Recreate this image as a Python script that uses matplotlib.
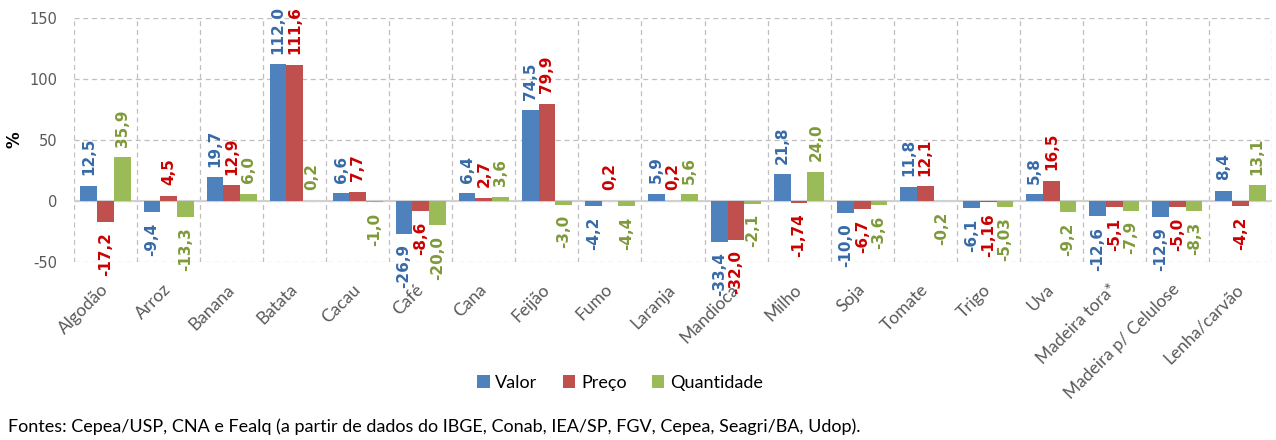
import matplotlib
matplotlib.use("Agg")
import matplotlib.pyplot as plt
import numpy as np

categories = ["Algodão", "Arroz", "Banana", "Batata", "Cacau", "Café", "Cana",
              "Feijão", "Fumo", "Laranja", "Mandioca", "Milho", "Soja", "Tomate",
              "Trigo", "Uva", "Madeira tora*", "Madeira p/ Celulose", "Lenha/carvão"]
valor = [12.5, -9.4, 19.7, 112.0, 6.6, -26.9, 6.4, 74.5, -4.2, 5.9, -33.4,
         21.8, -10.0, 11.8, -6.1, 5.8, -12.6, -12.9, 8.4]
preco = [-17.2, 4.5, 12.9, 111.6, 7.7, -8.6, 2.7, 79.9, 0.2, 0.2, -32.0,
         -1.74, -6.7, 12.1, -1.16, 16.5, -5.1, -5.0, -4.2]
quantidade = [35.9, -13.3, 6.0, 0.2, -1.0, -20.0, 3.6, -3.0, -4.4, 5.6, -2.1,
              24.0, -3.6, -0.2, -5.03, -9.2, -7.9, -8.3, 13.1]
series_names = ["Valor", "Preço", "Quantidade"]
y_ticks = [-50, 0, 50, 100, 150]
footer = ("Fontes: Cepea/USP, CNA e Fealq (a partir de dados do IBGE, Conab, "
          "IEA/SP, FGV, Cepea, Seagri/BA, Udop).")

bar_colors = ["#4F81BD", "#C0504D", "#9BBB59"]
label_colors = ["#376AA8", "#CC0000", "#7F9A3A"]


def fmt(v):
    # one decimal unless the value needs two
    s = f"{v:.1f}" if round(v, 1) == v else f"{v:.2f}"
    return s.replace(".", ",")


fig = plt.figure(figsize=(12.76, 4.4), dpi=100)
ax = fig.add_axes([74 / 1276, 1 - 262 / 440, 1198 / 1276, 244 / 440])

x = np.arange(len(categories))
w = 0.265
for i, (vals, name) in enumerate(zip([valor, preco, quantidade], series_names)):
    ax.bar(x + (i - 1) * w, vals, w, color=bar_colors[i], label=name, zorder=3)
    for xi, v in zip(x + (i - 1) * w, vals):
        ax.annotate(fmt(v), (xi, v), xytext=(0, 7.5 if v >= 0 else -7.5),
                    textcoords="offset points", rotation=90, ha="center",
                    va="bottom" if v >= 0 else "top", color=label_colors[i],
                    fontsize=11, fontweight="bold", family="DejaVu Sans",
                    annotation_clip=False, zorder=4)

ax.set_xlim(-0.5, len(categories) - 0.5)
ax.set_ylim(-50, 150)
ax.set_yticks(y_ticks)
ax.set_yticklabels([str(t) for t in y_ticks], color="#595959", fontsize=10.5,
                   family="DejaVu Sans")
ax.set_xticks(x)
ax.set_xticklabels(categories, rotation=45, ha="right", va="center",
                   rotation_mode="anchor", family="Lato", fontsize=12.5,
                   color="#595959")
ax.set_xticks(np.arange(-0.5, len(categories)), minor=True)
ax.tick_params(axis="both", which="both", length=0)
ax.tick_params(axis="x", pad=18)
ax.tick_params(axis="y", pad=12)

ax.grid(axis="y", which="major", linestyle=(0, (4, 3)), color="#BFBFBF", lw=0.9, zorder=0)
ax.grid(axis="x", which="minor", linestyle=(0, (4, 3)), color="#BFBFBF", lw=0.9, zorder=0)
ax.grid(axis="x", which="major", visible=False)
ax.axhline(0, color="#D0D0D0", lw=1.5, zorder=2)
for s in ax.spines.values():
    s.set_visible(False)

fig.text(14 / 1276, 1 - 140 / 440, "%", rotation=90, ha="center", va="center",
         fontsize=12, fontweight="bold", color="black", family="DejaVu Sans")

ax.legend(loc="center", bbox_to_anchor=(620 / 1276, 1 - 383 / 440),
          bbox_transform=fig.transFigure, ncol=3, frameon=False,
          handlelength=0.7, handleheight=0.7, handletextpad=0.3,
          columnspacing=1.4, prop={"family": "Lato", "size": 13})

fig.text(8 / 1276, 1 - 427 / 440, footer, ha="left", va="center",
         family="Lato", fontsize=13, color="black")

fig.savefig("out.png", dpi=100)
